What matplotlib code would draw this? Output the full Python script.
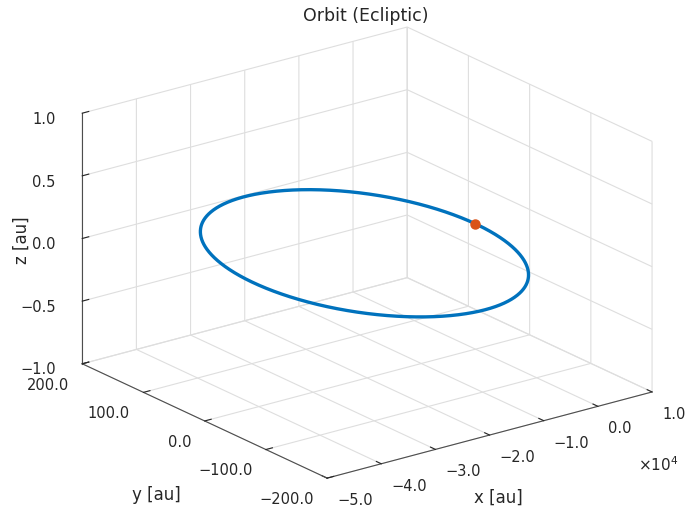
import numpy as np
import matplotlib
matplotlib.use("Agg")
import matplotlib.pyplot as plt
from matplotlib.ticker import FuncFormatter

plt.rcParams['font.family'] = ['DejaVu Sans']
plt.rcParams['font.size'] = 10.5
plt.rcParams['grid.color'] = '#dedede'
plt.rcParams['grid.linewidth'] = 0.8

# orbit (au), orbit lies in the ecliptic (z = 0)
semi_major = 20500.0
perihelion = 0.95
now_x, now_y, now_z = 0.95, 0.0, 0.0

x_ticks = [-5e4, -4e4, -3e4, -2e4, -1e4, 0, 1e4]
y_ticks = [-200, -100, 0, 100, 200]
z_ticks = [-1.0, -0.5, 0.0, 0.5, 1.0]

ecc = 1 - perihelion / semi_major
semi_minor = semi_major * np.sqrt(1 - ecc**2)
E = np.linspace(0, 2 * np.pi, 1441)
orb_x = semi_major * (np.cos(E) - ecc)
orb_y = semi_minor * np.sin(E)
orb_z = np.zeros_like(E)


def minus(s):
    return s.replace('-', '\u2212')


fig = plt.figure(figsize=(6.9, 5.16), dpi=100)
ax = fig.add_axes([0.148, -0.003, 0.748, 1.0], projection='3d',
                  proj_type='ortho', computed_zorder=False)
ax.view_init(elev=20.6, azim=-127.0)
ax.set_box_aspect((1, 1, 0.658), zoom=1.194)

ax.plot(orb_x, orb_y, orb_z, color='#0072BD', lw=2.4, zorder=2)
ax.plot([now_x], [now_y], [now_z], 'o', color='#D95319', ms=6.5, zorder=3)

ax.set_xlim(-5e4, 1e4)
ax.set_ylim(-200, 200)
ax.set_zlim(-1, 1)
ax.set_xticks(x_ticks)
ax.set_yticks(y_ticks)
ax.set_zticks(z_ticks)
ax.xaxis.set_major_formatter(FuncFormatter(lambda v, p: minus(f"{v / 1e4:.1f}")))
ax.yaxis.set_major_formatter(FuncFormatter(lambda v, p: minus(f"{v:.1f}")))
ax.zaxis.set_major_formatter(FuncFormatter(lambda v, p: minus(f"{v:.1f}")))

for axis in (ax.xaxis, ax.yaxis, ax.zaxis):
    axis.set_pane_color((1, 1, 1, 0))
    axis.line.set_color('#4d4d4d')
    axis.line.set_linewidth(0.8)
    axis._axinfo['tick']['inward_factor'] = 0.0
    axis._axinfo['tick']['outward_factor'] = 0.25
ax.tick_params(axis='both', colors='#262626', pad=0)
ax.tick_params(axis='z', colors='#262626', pad=1)
plt.setp(ax.get_xticklabels(), ha='left')
plt.setp(ax.get_yticklabels(), ha='right')
plt.setp(ax.get_zticklabels(), ha='right')

fig.text(0.530, 0.969, 'Orbit (Ecliptic)', ha='center', va='center',
         fontsize=12.5, color='#262626')
fig.text(0.032, 0.535, 'z [au]', rotation=90, ha='center', va='center',
         fontsize=12, color='#262626')
fig.text(0.226, 0.040, 'y [au]', ha='center', va='center',
         fontsize=12, color='#262626')
fig.text(0.722, 0.036, 'x [au]', ha='center', va='center',
         fontsize=12, color='#262626')
fig.text(0.954, 0.100, r'$\times\mathregular{10^4}$', ha='center',
         va='center', fontsize=11, color='#262626')

fig.savefig('out.png', dpi=100)
